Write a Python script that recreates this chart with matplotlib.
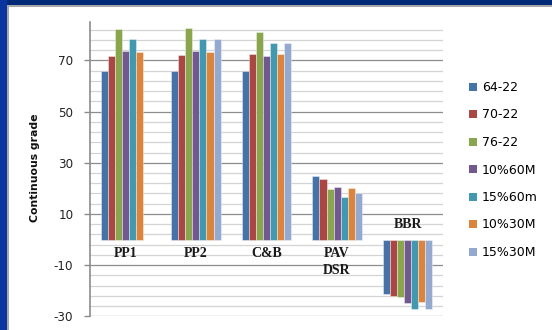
import numpy as np
import matplotlib
matplotlib.use("Agg")
import matplotlib.pyplot as plt
from matplotlib.patches import Rectangle, Patch
from matplotlib.ticker import MultipleLocator, FixedLocator

plt.rcParams["axes.unicode_minus"] = False

# ---- data ----
categories = ["PP1", "PP2", "C&B", "PAV\nDSR", "BBR"]
series_names = ["64-22", "70-22", "76-22", "10%60M", "15%60m", "10%30M", "15%30M"]
s64_22 = [65.8, 65.8, 65.8, 24.7, -21.3]
s70_22 = [71.9, 72.3, 72.5, 23.7, -22.1]
s76_22 = [82.2, 82.6, 81.1, 19.8, -22.6]
s10_60M = [73.7, 73.7, 71.9, 20.7, -24.9]
s15_60m = [78.2, 78.2, 76.9, 16.7, -27.2]
s10_30M = [73.3, 73.3, 72.5, 20.3, -24.3]
s15_30M = [np.nan, 78.2, 76.9, 18.2, -27.2]
yticks = [-30, -10, 10, 30, 50, 70]

series = [s64_22, s70_22, s76_22, s10_60M, s15_60m, s10_30M, s15_30M]
colors = ["#4572A7", "#AA4643", "#89A54E", "#71588F", "#4198AF", "#DB843D", "#93A9CF"]
label_y = [-5.4, -5.4, -5.4, -8.8, 5.9]  # layout: vertical placement of category labels

fig = plt.figure(figsize=(5.52, 3.30), dpi=100)
fig.patch.set_facecolor("white")

W, H = 552, 330
ax = fig.add_axes([90 / W, 1 - 316.3 / H, (443 - 90) / W, (316.3 - 22) / H])

x = np.arange(len(categories))
bw = 0.1
n = len(series)
for i, (vals, c, name) in enumerate(zip(series, colors, series_names)):
    off = (i - (n - 1) / 2) * bw
    ax.bar(x + off, vals, width=bw, color=c, edgecolor=(1, 1, 1, 0.55),
           linewidth=0.5, zorder=3, label=name)

ax.set_xlim(-0.5, len(categories) - 0.5)
ax.set_ylim(-30, 85)
ax.yaxis.set_major_locator(FixedLocator(yticks))
ax.yaxis.set_minor_locator(MultipleLocator(4, offset=2))
ax.grid(which="minor", axis="y", color="#d4d4d4", linewidth=0.9, zorder=0)
ax.grid(which="major", axis="y", color="#8c8c8c", linewidth=0.9, zorder=1)
ax.set_xticks([])
ax.tick_params(axis="y", which="major", length=4, width=1, color="#8c8c8c",
               pad=8, labelsize=8.6, labelcolor="#222222")
ax.tick_params(axis="y", which="minor", length=0)
for s in ["top", "right", "bottom"]:
    ax.spines[s].set_visible(False)
ax.spines["left"].set_color("#8c8c8c")
ax.spines["left"].set_linewidth(1.2)

for xi, cat, ly in zip(x, categories, label_y):
    ax.text(xi, ly, cat, ha="center", va="center", family="Liberation Serif",
            fontweight="bold", fontsize=10, color="#1a1a1a", linespacing=1.35, zorder=4)

fig.text(35 / W, 1 - 168 / H, "Continuous grade", rotation=90, ha="center",
         va="center", fontsize=7.8, fontweight="bold", color="#111111")

handles = [Patch(facecolor=c, edgecolor="none") for c in colors]
fig.legend(handles, series_names, loc="center left",
           bbox_to_anchor=(464 / W, 1 - 170 / H), frameon=False,
           fontsize=9, handlelength=0.6, handleheight=0.6, handletextpad=0.45,
           labelspacing=1.16, borderaxespad=0)

# blue frame (top and left edges)
fig.patches.append(Rectangle((0, 1 - 5 / H), 1, 5 / H, transform=fig.transFigure,
                             facecolor="#002a78", edgecolor="none", zorder=10))
fig.patches.append(Rectangle((0, 1 - 7 / H), 1, 2 / H, transform=fig.transFigure,
                             facecolor="#a8a8a8", edgecolor="none", zorder=9))
fig.patches.append(Rectangle((0, 0), 7 / W, 1, transform=fig.transFigure,
                             facecolor="#0a35a0", edgecolor="none", zorder=10))
fig.patches.append(Rectangle((7 / W, 0), 2 / W, 1 - 5 / H, transform=fig.transFigure,
                             facecolor="#a8a8a8", edgecolor="none", zorder=9))

fig.savefig("out.png", dpi=100)
